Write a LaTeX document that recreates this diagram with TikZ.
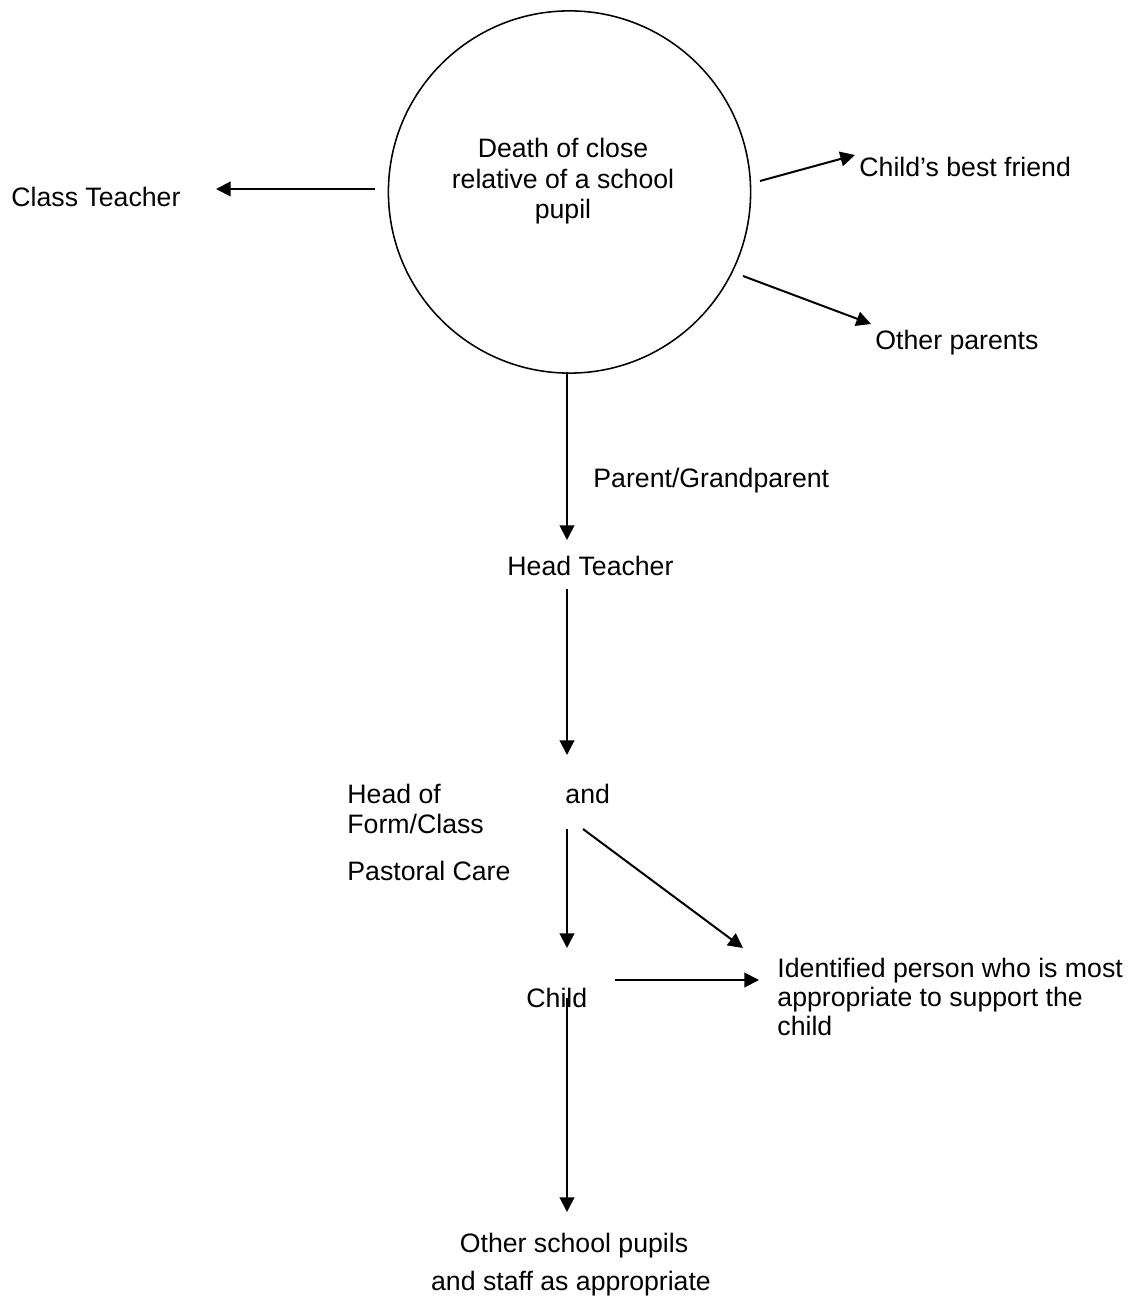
\documentclass[tikz,border=0pt]{standalone}
\usepackage{fontspec}
\setmainfont{Liberation Sans}
\usetikzlibrary{arrows.meta}
\begin{document}
\begin{tikzpicture}[x=0.45pt,y=-0.45pt,
  lbl/.style={inner sep=0pt, anchor=base west, font=\fontsize{12}{13.7}\selectfont},
  clbl/.style={lbl, anchor=base},
  arr/.style={line width=0.9pt, -{Triangle[length=6.6pt,width=6.6pt]}},
  ]
\useasboundingbox (0,0) rectangle (1127,1304);
% circle
\node[circle, draw, line width=0.7pt, minimum size=163pt, inner sep=0pt] (c) at (569.5,192) {};
\node[clbl] (ct1) at (563,158) {Death of close};
\node[clbl] (ct2) at (563,189) {relative of a school};
\node[clbl] (ct3) at (563,219) {pupil};
% labels
\node[lbl] (ctea) at (11,207) {Class Teacher};
\node[lbl] (friend) at (859,177) {Child’s best friend};
\node[lbl] (parents) at (875,350) {Other parents};
\node[lbl] (pg) at (593,487) {Parent/Grandparent};
\node[lbl] (head) at (507,575) {Head Teacher};
\node[lbl] (hof1) at (347,803) {Head of};
\node[lbl] (hof2) at (347,833) {Form/Class};
\node[lbl] (past) at (347,880) {Pastoral Care};
\node[lbl] (and) at (565,803) {and};
\node[lbl] (child) at (526,1007) {Child};
\node[lbl] (id1) at (777,977) {Identified person who is most};
\node[lbl] (id2) at (777,1006) {appropriate to support the};
\node[lbl] (id3) at (777,1035) {child};
\node[clbl] (osp1) at (574,1252) {Other school pupils};
\node[clbl] (osp2) at (571,1290) {and staff as appropriate};
% connector end points
\coordinate (a1s) at (375,189);  \coordinate (a1e) at (216,189);
\coordinate (a2s) at (760,181);  \coordinate (a2e) at (855,155);
\coordinate (a3s) at (743,276);  \coordinate (a3e) at (871,324);
\coordinate (a4s) at (567,372);  \coordinate (a4e) at (567,540);
\coordinate (a5s) at (567,589);  \coordinate (a5e) at (567,755);
\coordinate (a6s) at (567,829);  \coordinate (a6e) at (567,948);
\coordinate (a7s) at (583,829);  \coordinate (a7e) at (743,948);
\coordinate (a8s) at (615,980);  \coordinate (a8e) at (759,980);
\coordinate (a9s) at (567,998);  \coordinate (a9e) at (567,1212);
% connectors
\draw[arr] (a1s) -- (a1e);
\draw[arr] (a2s) -- (a2e);
\draw[arr] (a3s) -- (a3e);
\draw[arr] (a4s) -- (a4e);
\draw[arr] (a5s) -- (a5e);
\draw[arr] (a6s) -- (a6e);
\draw[arr] (a7s) -- (a7e);
\draw[arr] (a8s) -- (a8e);
\draw[arr] (a9s) -- (a9e);
\end{tikzpicture}
\end{document}
